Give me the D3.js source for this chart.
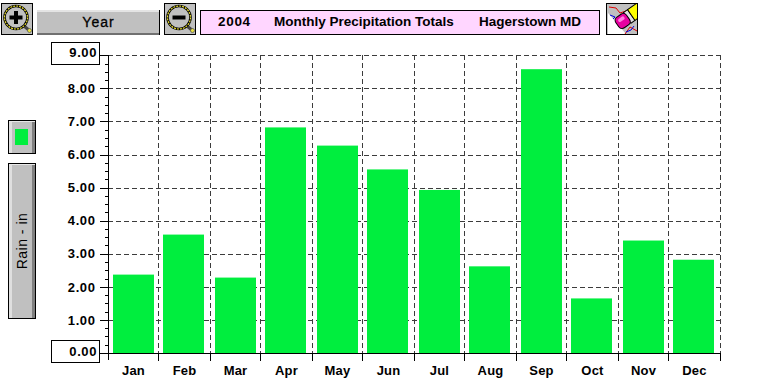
<!DOCTYPE html>
<html><head><meta charset="utf-8">
<script src="https://cdn.jsdelivr.net/npm/d3@7"></script>
<style>
html,body{margin:0;padding:0;background:#fff;overflow:hidden}
svg{display:block}
text{font-family:"Liberation Sans",Arial,sans-serif;fill:#000}
.b{font-weight:700;font-size:13px}
.yl{letter-spacing:.6px}
.xl{letter-spacing:.2px}
</style></head><body>
<div id="c"></div>
<script>
const months=["Jan","Feb","Mar","Apr","May","Jun","Jul","Aug","Sep","Oct","Nov","Dec"];
const rain=[2.37,3.58,2.28,6.82,6.27,5.55,4.93,2.62,8.58,1.65,3.40,2.82];
const yTicks=[0,1,2,3,4,5,6,7,8,9];
const minorTicks=d3.range(0,9.01,0.25);
const titleParts=["2004","Monthly Precipitation Totals","Hagerstown MD"];
const W=761,H=382,green="#00ee3e",pink="#ffd6ff",gray="#c0c0c0";

const svg=d3.select("#c").append("svg").attr("width",W).attr("height",H);
const x=d3.scaleBand().domain(months).range([108,720]);
const y=d3.scaleLinear().domain([0,9]).range([353,55.3]);
const barW=41;
// the original snaps horizontal positions to a 2-pixel grid
const snap=v=>Math.floor(v/2)*2;
const xEdge=d=>(d==="end"?720:snap(x(d)))+.5;

// grid
const grid=svg.append("g").attr("stroke","#3c3c3c").attr("stroke-dasharray","5,3").attr("shape-rendering","crispEdges");
grid.selectAll("line.h").data(yTicks.slice(1)).join("line").attr("class","h")
  .attr("x1",108).attr("x2",720).attr("y1",d=>Math.round(y(d))+.5).attr("y2",d=>Math.round(y(d))+.5);
grid.selectAll("line.v").data(months.slice(1).concat("end")).join("line").attr("class","v")
  .attr("x1",xEdge).attr("x2",xEdge).attr("y1",y(9)).attr("y2",y(0));

// bars
svg.append("g").selectAll("rect").data(rain).join("rect")
  .attr("x",(d,i)=>snap(x(months[i]))+5)
  .attr("width",barW).attr("y",d=>y(d)).attr("height",d=>y(0)-y(d)).attr("fill",green);

// axes
const ax=svg.append("g").attr("stroke","#000").attr("shape-rendering","crispEdges");
ax.append("line").attr("x1",108.5).attr("x2",108.5).attr("y1",y(9)).attr("y2",y(0)+7);
ax.append("line").attr("x1",100).attr("x2",720).attr("y1",y(0)+.5).attr("y2",y(0)+.5);
ax.selectAll("line.mi").data(minorTicks).join("line").attr("class","mi")
  .attr("x1",d=>Number.isInteger(d)?100:105).attr("x2",108)
  .attr("y1",d=>Math.round(y(d))+.5).attr("y2",d=>Math.round(y(d))+.5);
ax.selectAll("line.xt").data(months.slice(1).concat("end")).join("line").attr("class","xt")
  .attr("x1",xEdge).attr("x2",xEdge).attr("y1",y(0)).attr("y2",y(0)+8);

// boxed end labels
function box(px,py,w,h,fill){return svg.append("rect").attr("x",px+.5).attr("y",py+.5).attr("width",w).attr("height",h).attr("fill",fill||"none").attr("stroke","#000").attr("shape-rendering","crispEdges");}
box(51,42,48,22); box(51,340,48,22);

// tick labels
svg.selectAll("text.yl").data(yTicks).join("text").attr("class","yl b")
  .attr("x",d=>(d===0||d===9)?97:95.5).attr("y",d=>y(d)+((d===0)?3:(d===9)?1.7:4.7))
  .attr("text-anchor","end").text(d=>d3.format(".2f")(d));
svg.selectAll("text.xl").data(months).join("text").attr("class","xl b")
  .attr("x",d=>x(d)+x.bandwidth()/2).attr("y",375).attr("text-anchor","middle").text(d=>d);

// raised button
function button(px,py,w,h){
  const g=svg.append("g").attr("shape-rendering","crispEdges");
  g.append("rect").attr("x",px+.5).attr("y",py+.5).attr("width",w).attr("height",h).attr("fill",gray).attr("stroke","#000");
  g.append("rect").attr("x",px+1).attr("y",py+1).attr("width",3).attr("height",h-1).attr("fill","#dfdfdf");
  g.append("rect").attr("x",px+w-3).attr("y",py+1).attr("width",3).attr("height",h-1).attr("fill","#808080");
  g.append("rect").attr("x",px+1).attr("y",py+1).attr("width",w-1).attr("height",1).attr("fill","#e8e8e8");
  return g;
}
button(8,120,27,33);
svg.append("rect").attr("x",15).attr("y",129).attr("width",13).attr("height",16).attr("fill",green);
button(8,163,27,155);
svg.append("text").attr("transform","translate(27,241) rotate(-90)").attr("text-anchor","middle")
  .style("font-size","14px").style("letter-spacing",".5px").text("Rain - in");

// year button
const yb=svg.append("g").attr("shape-rendering","crispEdges");
yb.append("rect").attr("x",37).attr("y",10).attr("width",123).attr("height",25).attr("fill",gray);
yb.append("rect").attr("x",37).attr("y",10).attr("width",123).attr("height",2).attr("fill","#e4e4e4");
yb.append("rect").attr("x",37).attr("y",33).attr("width",123).attr("height",2).attr("fill","#707070");
yb.append("rect").attr("x",159).attr("y",10).attr("width",1).attr("height",25).attr("fill","#000");
svg.append("text").attr("x",98.5).attr("y",27).attr("text-anchor","middle").style("font-size","14px").style("letter-spacing","1px").style("stroke","#000").style("stroke-width",".3").text("Year");

// magnifier icons
function mag(px,sign){
  const g=svg.append("g");
  g.append("rect").attr("x",px+.5).attr("y",3.5).attr("width",31).attr("height",31).attr("fill",gray).attr("stroke","#000").attr("shape-rendering","crispEdges");
  g.append("line").attr("x1",px+23).attr("y1",26).attr("x2",px+29).attr("y2",31).attr("stroke","#444").attr("stroke-width",3);
  g.append("circle").attr("cx",px+28.5).attr("cy",30.5).attr("r",2).attr("fill","#e8e040").attr("stroke","#555").attr("stroke-width",.7);
  g.append("circle").attr("cx",px+15).attr("cy",17.5).attr("r",11.5).attr("fill",gray).attr("stroke","#000").attr("stroke-width",2.6);
  g.append("circle").attr("cx",px+15).attr("cy",17.5).attr("r",11.5).attr("fill","none").attr("stroke","#e6dc2c").attr("stroke-width",1.2).attr("stroke-dasharray","2,1");
  g.append("rect").attr("x",px+8.5).attr("y",15.5).attr("width",13).attr("height",4).attr("fill","#000");
  if(sign==="+")g.append("rect").attr("x",px+13).attr("y",11).attr("width",4).attr("height",13).attr("fill","#000");
}
mag(1,"+"); mag(164,"-");

// title
box(200,10,399,24,pink);
svg.selectAll("text.t").data(titleParts).join("text").attr("class","t b").style("font-size","13.5px")
  .style("letter-spacing",(d,i)=>i===0?".7px":"0px")
  .attr("x",(d,i)=>[218,274,479][i]).attr("y",26).text(d=>d);

// eraser icon
svg.append("clipPath").attr("id","ec").append("rect").attr("x",607).attr("y",4).attr("width",31).attr("height",31);
const e=svg.append("g").attr("clip-path","url(#ec)");
e.append("rect").attr("x",606.5).attr("y",3.5).attr("width",31).attr("height",31).attr("fill",gray);
e.append("path").attr("d","M608 34V13L626 34Z").attr("fill","#fff");
e.append("path").attr("d","M609 7L616 8L620 13L626 11M625 34L630 27L637 31").attr("fill","none").attr("stroke","#e00000");
e.append("path").attr("d","M610 15L615 17L613 19M626 32L631 30L634 26").attr("fill","none").attr("stroke","#0000e0");
const body=e.append("g").attr("transform","translate(625,20) rotate(-35)");
body.append("rect").attr("x",3).attr("y",-7).attr("width",5).attr("height",13).attr("fill","#e0e0e0").attr("stroke","#000");
body.append("rect").attr("x",8).attr("y",-7).attr("width",12).attr("height",13).attr("fill","#ffff00").attr("stroke","#000");
body.append("rect").attr("x",-9).attr("y",-7).attr("width",13).attr("height",13).attr("rx",4).attr("fill","#e800a0").attr("stroke","#000");
body.append("rect").attr("x",-6).attr("y",-4.5).attr("width",7).attr("height",3.5).attr("rx",1.5).attr("fill","#ff80e0");
svg.append("rect").attr("x",606.5).attr("y",3.5).attr("width",31).attr("height",31).attr("fill","none").attr("stroke","#000").attr("shape-rendering","crispEdges");
</script></body></html>
